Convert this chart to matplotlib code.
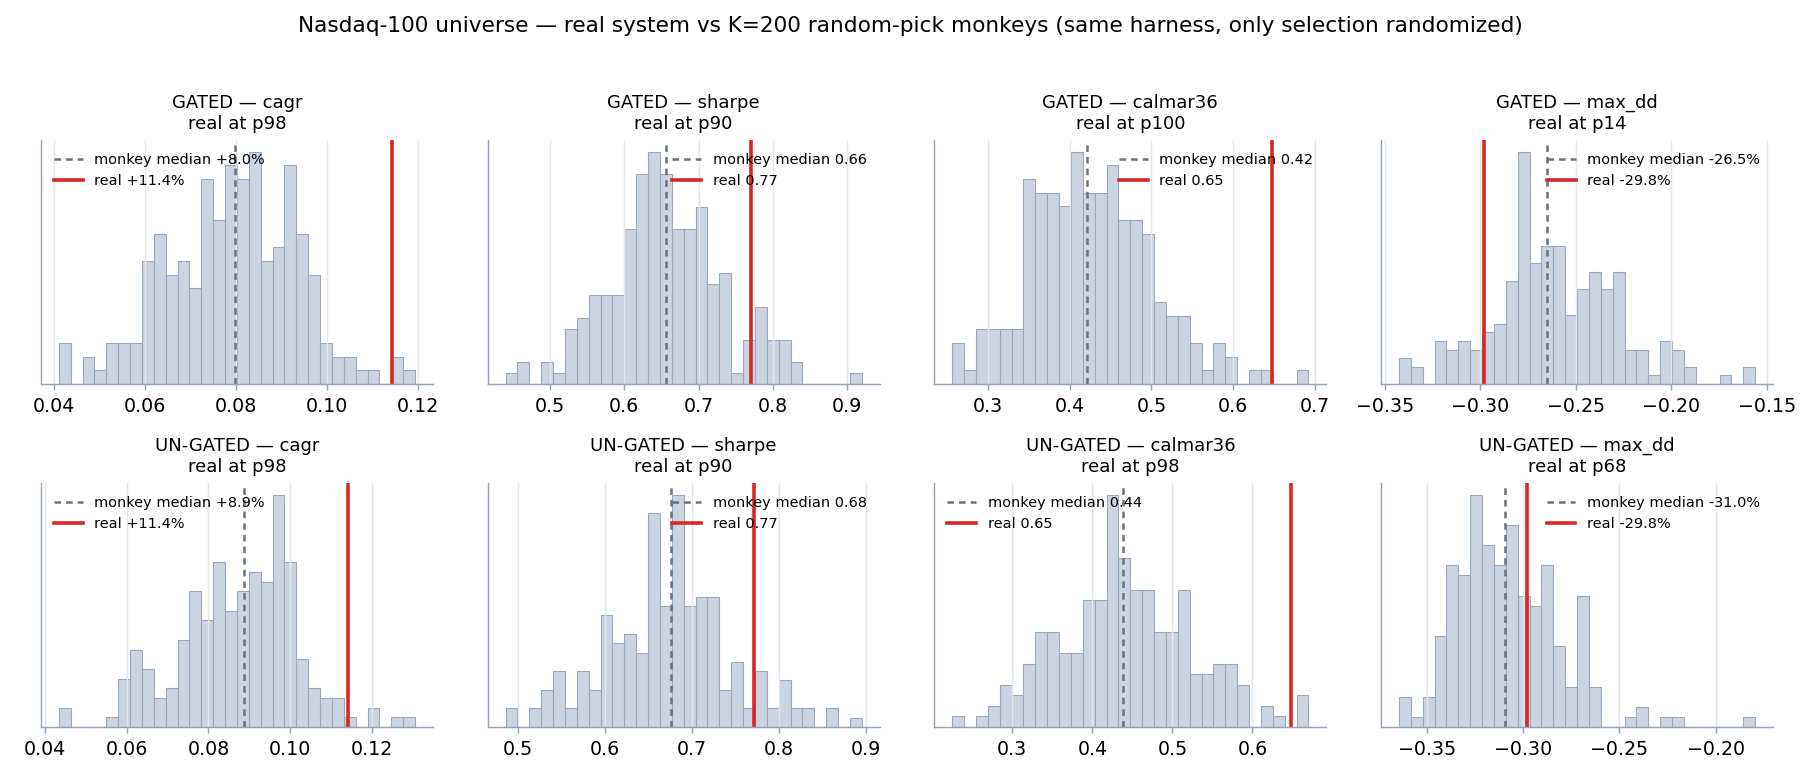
import numpy as np
import matplotlib
matplotlib.use("Agg")
import matplotlib.pyplot as plt

# ---------------- data (histogram counts, 30 bins, K=200 monkeys) ----------------
metrics = ["cagr", "sharpe", "calmar36", "max_dd"]
rows = ["GATED", "UN-GATED"]

gated_cagr_counts = [3, 0, 2, 1, 3, 3, 3, 9, 11, 8, 9, 7, 15, 12, 16, 15, 17, 9, 10, 16, 11, 8, 3, 2, 2, 1, 1, 0, 2, 1]
gated_cagr_range = (0.0411, 0.1193)
gated_sharpe_counts = [1, 2, 0, 2, 1, 5, 6, 8, 8, 8, 14, 19, 21, 19, 14, 14, 16, 9, 10, 1, 4, 7, 4, 4, 2, 0, 0, 0, 0, 1]
gated_sharpe_range = (0.4402, 0.9193)
gated_calmar_counts = [3, 1, 4, 4, 4, 4, 15, 14, 14, 13, 17, 14, 14, 16, 12, 12, 11, 6, 5, 5, 3, 1, 3, 2, 0, 1, 1, 0, 0, 1]
gated_calmar_range = (0.2563, 0.6922)
gated_maxdd_counts = [3, 2, 0, 5, 4, 5, 4, 6, 7, 12, 27, 14, 16, 16, 8, 11, 13, 11, 13, 4, 4, 1, 5, 4, 2, 0, 0, 1, 0, 2]
gated_maxdd_range = (-0.3425, -0.1561)

ungated_cagr_counts = [2, 0, 0, 0, 1, 5, 8, 6, 3, 4, 9, 14, 11, 17, 12, 14, 16, 15, 24, 17, 7, 4, 3, 3, 1, 0, 2, 0, 1, 1]
ungated_cagr_range = (0.04335, 0.1306)
ungated_sharpe_counts = [2, 0, 2, 4, 6, 2, 6, 4, 12, 9, 10, 8, 23, 13, 25, 13, 14, 14, 4, 7, 2, 6, 2, 5, 2, 2, 0, 2, 0, 1]
ungated_sharpe_range = (0.4862, 0.895)
ungated_calmar_counts = [1, 0, 1, 2, 4, 3, 6, 9, 9, 7, 7, 12, 12, 22, 16, 13, 13, 9, 9, 13, 5, 5, 6, 6, 4, 0, 2, 1, 0, 3]
ungated_calmar_range = (0.225, 0.67)
ungated_maxdd_counts = [3, 1, 3, 9, 16, 15, 23, 18, 16, 20, 13, 12, 16, 8, 4, 13, 4, 0, 0, 1, 2, 0, 1, 1, 0, 0, 0, 0, 0, 1]
ungated_maxdd_range = (-0.3646, -0.1794)

gated_medians = [0.0798, 0.6555, 0.4208, -0.2648]
ungated_medians = [0.0886, 0.6757, 0.4379, -0.3096]
real_values = [0.1143, 0.771, 0.648, -0.298]
gated_pctl = [98, 90, 100, 14]
ungated_pctl = [98, 90, 98, 68]
legend_locs = [["upper left", "upper right", "upper right", "upper right"],
               ["upper left", "upper right", "upper left", "upper right"]]

counts = [[gated_cagr_counts, gated_sharpe_counts, gated_calmar_counts, gated_maxdd_counts],
          [ungated_cagr_counts, ungated_sharpe_counts, ungated_calmar_counts, ungated_maxdd_counts]]
ranges = [[gated_cagr_range, gated_sharpe_range, gated_calmar_range, gated_maxdd_range],
          [ungated_cagr_range, ungated_sharpe_range, ungated_calmar_range, ungated_maxdd_range]]
medians = [gated_medians, ungated_medians]
pctls = [gated_pctl, ungated_pctl]

# ---------------- styling ----------------
BAR_FACE = "#cbd5e1"
BAR_EDGE = "#9aa8bd"
SPINE = "#94a3b8"
MED = "#6b7280"
RED = "#dc2626"
GRID = "#e5e7eb"

fig, axes = plt.subplots(2, 4, figsize=(14, 6), dpi=130)
fig.subplots_adjust(left=0.0225, right=0.9742, top=0.8205, bottom=0.068, wspace=0.14, hspace=0.406)


def fmt(metric, v):
    if metric == "cagr":
        return f"{v:+.1%}"
    if metric == "max_dd":
        return f"{v:.1%}"
    return f"{v:.2f}"


for r in range(2):
    for c in range(4):
        ax = axes[r, c]
        cnt = np.array(counts[r][c], dtype=float)
        lo, hi = ranges[r][c]
        edges = np.linspace(lo, hi, len(cnt) + 1)
        centers = 0.5 * (edges[:-1] + edges[1:])
        ax.hist(centers, bins=edges, weights=cnt, color=BAR_FACE,
                edgecolor=BAR_EDGE, linewidth=0.6)
        m = metrics[c]
        med = medians[r][c]
        real = real_values[c]
        ax.axvline(med, color=MED, ls=(0, (2.6, 2.0)), lw=1.4,
                   label=f"monkey median {fmt(m, med)}")
        ax.axvline(real, color=RED, lw=2.0, label=f"real {fmt(m, real)}")
        ax.set_title(f"{rows[r]} — {m}\nreal at p{pctls[r][c]}", fontsize=10)
        ax.set_yticks([])
        ax.grid(axis="x", color=GRID, lw=0.8)
        for s in ("top", "right"):
            ax.spines[s].set_visible(False)
        for s in ("left", "bottom"):
            ax.spines[s].set_color(SPINE)
        ax.tick_params(axis="x", colors=SPINE, labelcolor="black", labelsize=10.5)
        ax.legend(loc=legend_locs[r][c], frameon=False, fontsize=8)

fig.suptitle("Nasdaq-100 universe — real system vs K=200 random-pick monkeys "
             "(same harness, only selection randomized)", fontsize=12)

fig.savefig("out.png", dpi=130)
